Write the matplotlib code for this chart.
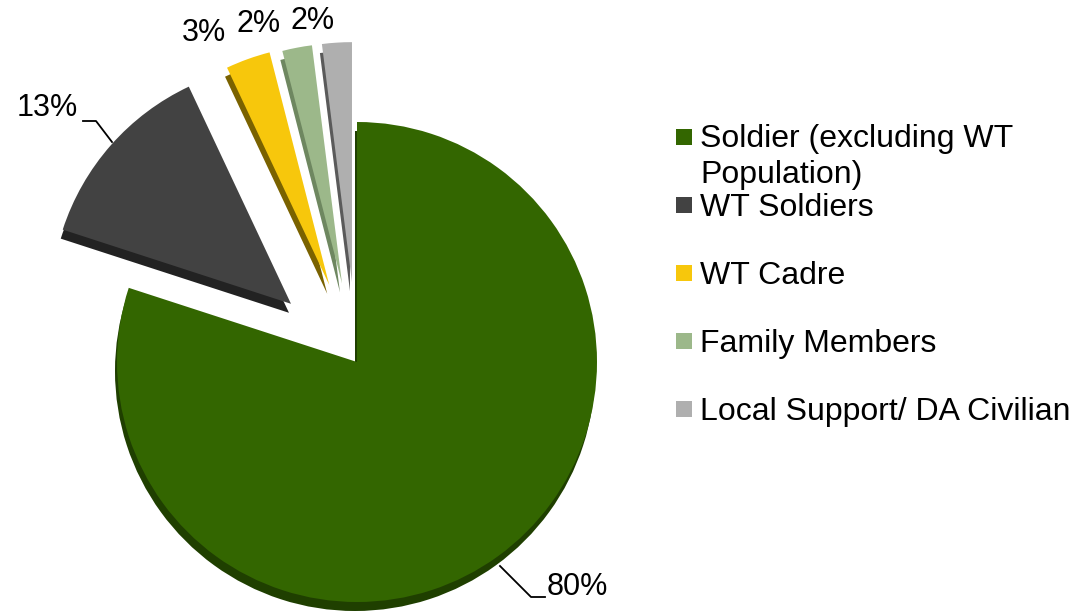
import matplotlib.pyplot as plt

plt.rcParams['font.family'] = ['Liberation Sans', 'DejaVu Sans']

categories = ['Soldier (excluding WT\nPopulation)', 'WT Soldiers', 'WT Cadre',
              'Family Members', 'Local Support/ DA Civilian']
shares = [80, 13, 3, 2, 2]
pct_labels = ['80%', '13%', '3%', '2%', '2%']

colors = ['#336600', '#424242', '#F7C70C', '#9CB88A', '#AFAFAF']
side_colors = ['#1F3F00', '#222222', '#7A6200', '#6E8760', '#5A5A5A']
explode = [0, 88, 82, 80, 80]  # in pixels, data coords are pixels

W, H = 1077, 612
fig = plt.figure(figsize=(W / 100, H / 100), dpi=100)
ax = fig.add_axes([0, 0, 1, 1])

cx, cy, r = 357, H - 362, 240

# darker copy below gives the 3D thickness
ax.pie(shares, explode=explode, colors=side_colors, startangle=90,
       counterclock=False, center=(cx - 2, cy - 9), radius=r,
       wedgeprops=dict(linewidth=0))
ax.pie(shares, explode=explode, colors=colors, startangle=90,
       counterclock=False, center=(cx, cy), radius=r,
       wedgeprops=dict(linewidth=0))

ax.set_xlim(0, W)
ax.set_ylim(0, H)
ax.set_aspect('equal')
ax.axis('off')

fs_pct = 22
fs_leg = 23


def px(x, y):
    # image coords (y from top) -> data coords
    return x, H - y


ax.text(*px(547, 587), pct_labels[0], fontsize=fs_pct, ha='left', va='center')
ax.plot(*zip(px(500, 566), px(531, 597), px(545, 597)), color='black', lw=1.3)

ax.text(*px(78, 108), pct_labels[1], fontsize=fs_pct, ha='right', va='center')
ax.plot(*zip(px(83, 121), px(96, 121), px(112, 142)), color='black', lw=1.3)

for (x, y), lab in zip([(204, 33), (259, 24), (313, 21)], pct_labels[2:]):
    ax.text(*px(x, y), lab, fontsize=fs_pct, ha='center', va='center')

# legend
ys = [137, 205, 273, 341, 409]
for lab, col, y in zip(categories, colors, ys):
    ax.add_patch(plt.Rectangle(px(676, y + 8), 16, 16, color=col, lw=0))
    nl = lab.count('\n')  # baseline is taken from the last line
    ax.text(*px(700, y + 11 + 35 * nl), lab, fontsize=fs_leg, ha='left',
            va='baseline', linespacing=1.25)

fig.savefig('out.png', dpi=100)
